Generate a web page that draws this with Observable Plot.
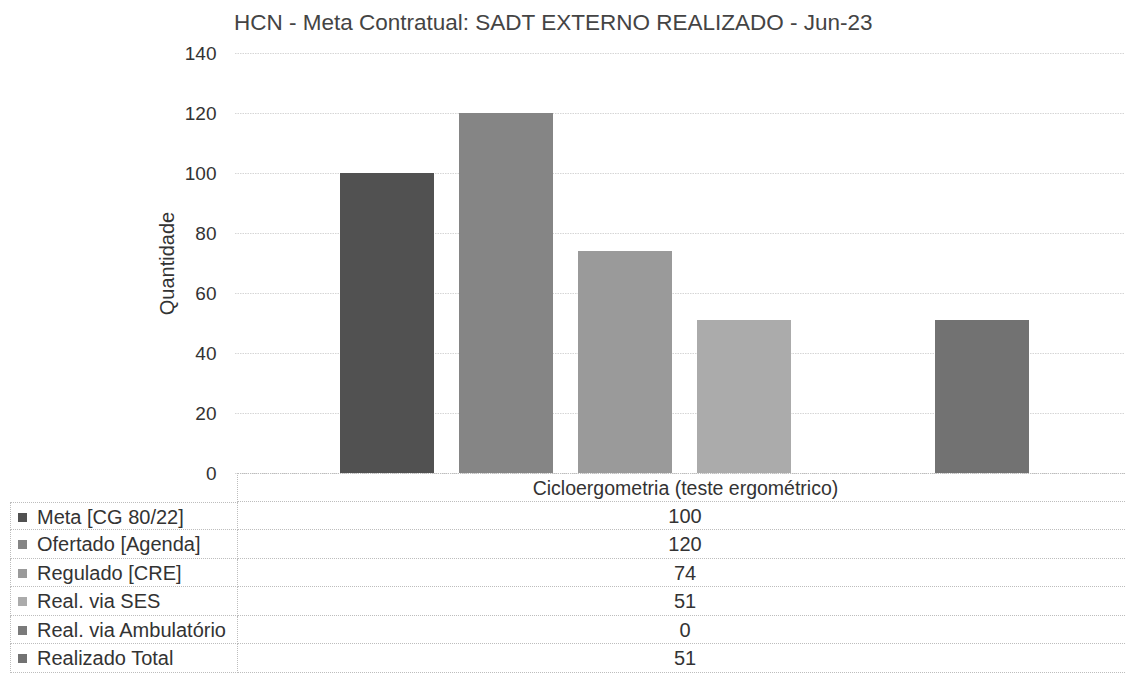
<!DOCTYPE html>
<html>
<head>
<meta charset="utf-8">
<script src="https://cdn.jsdelivr.net/npm/d3@7"></script>
<script src="https://cdn.jsdelivr.net/npm/@observablehq/plot@0.6"></script>
<style>
  html, body { margin: 0; padding: 0; background: #fff; overflow: hidden; }
  body { width: 1125px; height: 684px; position: relative; font-family: "Liberation Sans", Arial, sans-serif; color: #333; }
  #title { position: absolute; left: 234px; top: 10px; font-size: 22.5px; color: #444; white-space: nowrap; }
  #chart { position: absolute; left: 0; top: 0; }
  #table { position: absolute; left: 0; top: 0; }
  .cell { position: absolute; box-sizing: border-box; white-space: nowrap; font-size: 20px; color: #333; background: transparent; }
  .lab { border: 1px dotted #bdbdbd; border-top: none; padding-left: 26px; }
  .lab .sw { position: absolute; left: 7px; top: 10px; width: 9px; height: 9px; }
  .val { border-bottom: 1px dotted #bdbdbd; text-align: center; }
</style>
</head>
<body>
<div id="title"></div>
<div id="chart"></div>
<div id="table"></div>
<script>
const title = "HCN - Meta Contratual: SADT EXTERNO REALIZADO - Jun-23";
const category = "Cicloergometria (teste ergométrico)";
const series = ["Meta [CG 80/22]", "Ofertado [Agenda]", "Regulado [CRE]", "Real. via SES", "Real. via Ambulatório", "Realizado Total"];
const values = [100, 120, 74, 51, 0, 51];
const colors = ["#515151", "#858585", "#9a9a9a", "#ababab", "#7a7a7a", "#727272"];
const yTicks = [0, 20, 40, 60, 80, 100, 120, 140];

const data = series.map((s, i) => ({series: s, value: values[i]}));

document.getElementById("title").textContent = title;

const plot = Plot.plot({
  width: 1125,
  height: 495,
  marginLeft: 235,
  marginRight: 0,
  marginTop: 53,
  marginBottom: 22,
  style: {fontFamily: "Liberation Sans, Arial, sans-serif", fontSize: "19px", color: "#333", background: "transparent", overflow: "visible"},
  x: {domain: series, range: [339, 1031], paddingInner: 0.21, paddingOuter: 0, axis: null},
  y: {domain: [0, 140], ticks: yTicks, tickSize: 0, tickPadding: 19, label: "Quantidade", labelAnchor: "center", labelArrow: "none", labelOffset: 76},
  color: {domain: series, range: colors},
  marks: [
    Plot.gridY(yTicks, {stroke: "#d6d6d6", strokeOpacity: 1, strokeDasharray: "1.5,1"}),
    Plot.barY(data, {x: "series", y: "value", fill: "series"})
  ]
});
plot.querySelectorAll("g[aria-label='y-axis label'] text").forEach(t => t.style.fontSize = "20px");
document.getElementById("chart").appendChild(plot);

// data table below the plot
const table = document.getElementById("table");
const rowH = 28.5, top0 = 473, left0 = 10, colX = 237;
function cell(cls, x, y, w, h, text) {
  const d = document.createElement("div");
  d.className = "cell " + cls;
  d.style.left = x + "px"; d.style.top = y + "px";
  d.style.width = w + "px"; d.style.height = h + "px";
  d.style.lineHeight = h + "px";
  if (text !== undefined) d.appendChild(document.createTextNode(text));
  table.appendChild(d);
  return d;
}
const head = cell("val", colX, top0, 896, rowH, category);
head.style.borderTop = "1px dotted #bdbdbd";
head.style.borderLeft = "1px dotted #bdbdbd";
head.style.fontSize = "19.5px";
series.forEach((s, i) => {
  const y = top0 + rowH * (i + 1);
  const l = cell("lab", left0, y, colX - left0 + 1, rowH, s);
  if (i === 0) l.style.borderTop = "1px dotted #bdbdbd";
  const sw = document.createElement("span");
  sw.className = "sw"; sw.style.background = colors[i];
  l.appendChild(sw);
  cell("val", colX, y, 896, rowH, String(values[i]));
});
</script>
</body>
</html>
